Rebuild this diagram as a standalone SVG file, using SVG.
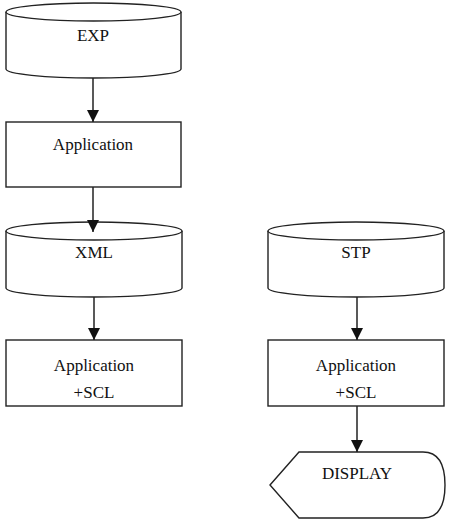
<svg xmlns="http://www.w3.org/2000/svg" width="450" height="521" viewBox="0 0 450 521">
<style>
.s{fill:#fff;stroke:#222;stroke-width:1.4}
.t{font-family:"Liberation Serif","Times New Roman",serif;font-size:17px;fill:#111;text-anchor:middle}
.c{stroke:#222;stroke-width:1.5;fill:none}
</style>
<defs>
<marker id="ah" markerWidth="12" markerHeight="12" viewBox="0 0 12 12" refX="12" refY="6" orient="auto" markerUnits="userSpaceOnUse">
<path d="M0,0 L12,6 L0,12 Z" fill="#111"/>
</marker>
</defs>
<rect width="450" height="521" fill="#fff"/>
<g id="exp">
<path class="s" d="M6,12 L6,69 A87.5,9 0 0 0 181,69 L181,12"/>
<ellipse class="s" cx="93.5" cy="12" rx="87.5" ry="9"/>
<text class="t" x="93" y="41">EXP</text>
</g>
<g id="app1">
<rect class="s" x="6" y="122" width="175" height="65"/>
<text class="t" x="93" y="150">Application</text>
</g>
<g id="xml">
<path class="s" d="M6,231 L6,288 A88,9 0 0 0 182,288 L182,231"/>
<ellipse class="s" cx="94" cy="231" rx="88" ry="9"/>
<text class="t" x="94" y="258">XML</text>
</g>
<g id="app2">
<rect class="s" x="6" y="340" width="176" height="66"/>
<text class="t" x="94" y="371">Application</text>
<text class="t" x="94" y="398">+SCL</text>
</g>
<g id="stp">
<path class="s" d="M268,231 L268,288 A88,9 0 0 0 444,288 L444,231"/>
<ellipse class="s" cx="356" cy="231" rx="88" ry="9"/>
<text class="t" x="356" y="258">STP</text>
</g>
<g id="app3">
<rect class="s" x="268" y="340" width="176" height="66"/>
<text class="t" x="356" y="371">Application</text>
<text class="t" x="356" y="398">+SCL</text>
</g>
<g id="display">
<path class="s" d="M270,485 L299,452 L423,452 Q445,452 445,485 Q445,518 423,518 L299,518 Z"/>
<text class="t" x="357" y="479">DISPLAY</text>
</g>
<g id="connectors">
<line class="c" x1="93" y1="78" x2="93" y2="122" marker-end="url(#ah)"/>
<line class="c" x1="93" y1="187" x2="93" y2="232" marker-end="url(#ah)"/>
<line class="c" x1="94" y1="297" x2="94" y2="340" marker-end="url(#ah)"/>
<line class="c" x1="357" y1="297" x2="357" y2="340" marker-end="url(#ah)"/>
<line class="c" x1="357" y1="406" x2="357" y2="452" marker-end="url(#ah)"/>
</g>
</svg>
